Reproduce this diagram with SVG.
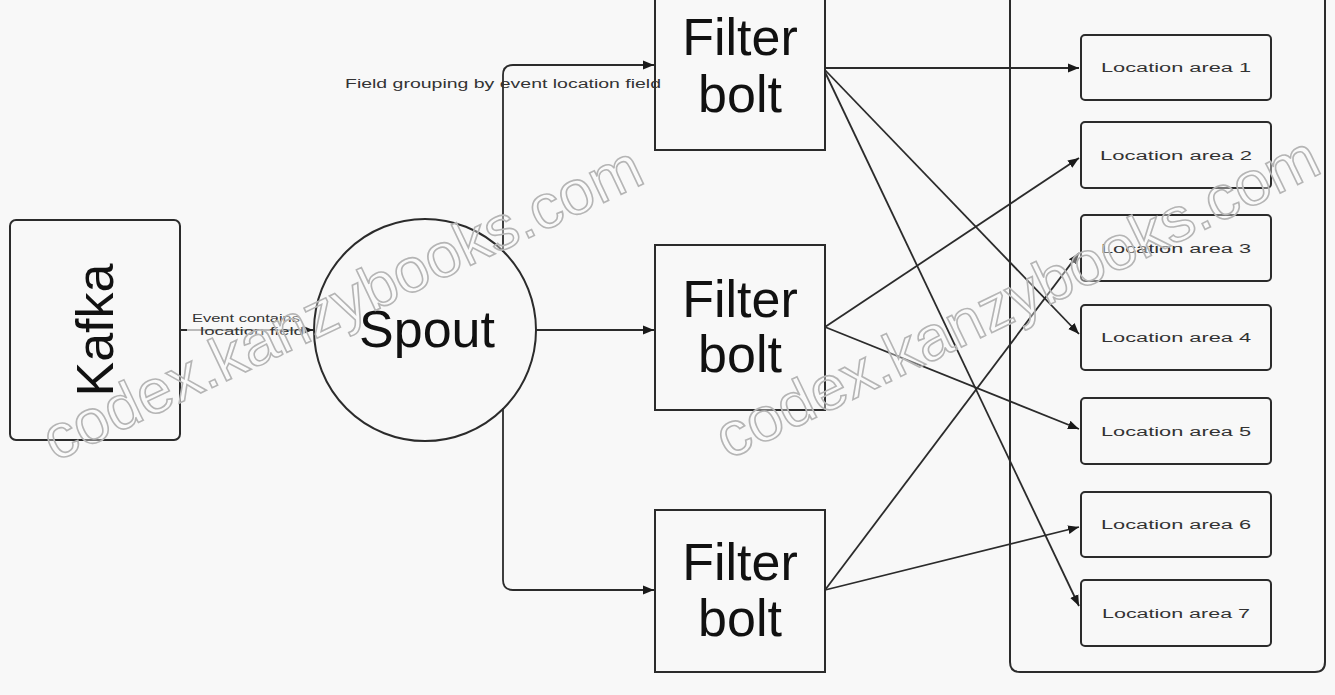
<svg xmlns="http://www.w3.org/2000/svg" width="1335" height="695" viewBox="0 0 1335 695">
<defs>
<style>
.bg{fill:#f8f8f8}
.box{fill:#f8f8f8;stroke:#2b2b2b;stroke-width:2}
.big{font-family:"Liberation Sans",Arial,sans-serif;font-size:52px;fill:#111;text-anchor:middle}
.small{font-family:"Liberation Sans",Arial,sans-serif;font-size:12px;fill:#333;text-anchor:middle}
.tiny{font-family:"Liberation Sans",Arial,sans-serif;font-size:10px;fill:#333;text-anchor:middle}
.conn{fill:none;stroke:#2b2b2b;stroke-width:1.8;marker-end:url(#ah)}
.wm{font-family:"Liberation Sans",Arial,sans-serif;font-size:62px;fill:#ffffff;fill-opacity:0.35;stroke:#b5b5b5;stroke-width:1.6}
</style>
<marker id="ah" viewBox="0 0 10 10" refX="10" refY="5" markerWidth="11" markerHeight="11" markerUnits="userSpaceOnUse" orient="auto">
<path d="M0,1 L10,5 L0,9 z" fill="#1a1a1a"/>
</marker>
</defs>
<rect class="bg" x="0" y="0" width="1335" height="695"/>

<g id="container">
<path class="box" d="M1010,-10 L1010,662 Q1010,672 1020,672 L1315,672 Q1325,672 1325,662 L1325,-10"/>
</g>

<g id="kafka">
<rect class="box" x="10" y="220" width="170" height="220" rx="6"/>
<text class="big" transform="translate(113,330) rotate(-90)">Kafka</text>
</g>

<g id="spout">
<circle class="box" cx="425" cy="330" r="111"/>
<text class="big" x="427" y="347">Spout</text>
</g>

<g id="filter1">
<rect class="box" x="655" y="-20" width="170" height="170"/>
<text class="big" x="740" y="55">Filter</text>
<text class="big" x="740" y="112">bolt</text>
</g>
<g id="filter2">
<rect class="box" x="655" y="245" width="170" height="165"/>
<text class="big" x="740" y="317">Filter</text>
<text class="big" x="740" y="372">bolt</text>
</g>
<g id="filter3">
<rect class="box" x="655" y="510" width="170" height="162"/>
<text class="big" x="740" y="580">Filter</text>
<text class="big" x="740" y="636">bolt</text>
</g>

<g id="loc1"><rect class="box" x="1081" y="35" width="190" height="65" rx="4"/><text class="small" x="1176" y="72" textLength="150" lengthAdjust="spacingAndGlyphs">Location area 1</text></g>
<g id="loc2"><rect class="box" x="1081" y="122" width="190" height="66" rx="4"/><text class="small" x="1176" y="160" textLength="152" lengthAdjust="spacingAndGlyphs">Location area 2</text></g>
<g id="loc3"><rect class="box" x="1081" y="215" width="190" height="66" rx="4"/><text class="small" x="1176" y="253" textLength="150" lengthAdjust="spacingAndGlyphs">Location area 3</text></g>
<g id="loc4"><rect class="box" x="1081" y="305" width="190" height="65" rx="4"/><text class="small" x="1176" y="342" textLength="150" lengthAdjust="spacingAndGlyphs">Location area 4</text></g>
<g id="loc5"><rect class="box" x="1081" y="398" width="190" height="66" rx="4"/><text class="small" x="1176" y="436" textLength="150" lengthAdjust="spacingAndGlyphs">Location area 5</text></g>
<g id="loc6"><rect class="box" x="1081" y="492" width="190" height="65" rx="4"/><text class="small" x="1176" y="529" textLength="150" lengthAdjust="spacingAndGlyphs">Location area 6</text></g>
<g id="loc7"><rect class="box" x="1081" y="580" width="190" height="66" rx="4"/><text class="small" x="1176" y="618" textLength="148" lengthAdjust="spacingAndGlyphs">Location area 7</text></g>

<g id="connectors">
<path class="conn" d="M180,330 L313,330"/>
<path class="conn" d="M503,252 L503,75 Q503,65 513,65 L654,65"/>
<path class="conn" d="M536,330 L654,330"/>
<path class="conn" d="M503,408 L503,580 Q503,590 513,590 L654,590"/>
<path class="conn" d="M825,68 L1079,68"/>
<path class="conn" d="M825,70 L1079,334"/>
<path class="conn" d="M825,72 L1079,606"/>
<path class="conn" d="M825,327 L1079,158"/>
<path class="conn" d="M825,327 L1079,429"/>
<path class="conn" d="M825,590 L1079,253"/>
<path class="conn" d="M825,590 L1079,527"/>
</g>

<g id="labels">
<rect x="187" y="313" width="118" height="24" fill="#f8f8f8" fill-opacity="0.7"/>
<text class="tiny" x="246" y="322" textLength="108" lengthAdjust="spacingAndGlyphs">Event contains</text>
<text class="tiny" x="252" y="335" textLength="104" lengthAdjust="spacingAndGlyphs">location field</text>
<text class="small" x="503" y="88" textLength="316" lengthAdjust="spacingAndGlyphs">Field grouping by event location field</text>
</g>

<g id="watermarks">
<text class="wm" transform="translate(55,462) rotate(-25.3)" textLength="655" lengthAdjust="spacingAndGlyphs">codex.kanzybooks.com</text>
<text class="wm" transform="translate(728,460) rotate(-25.8)" textLength="662" lengthAdjust="spacingAndGlyphs">codex.kanzybooks.com</text>
</g>
</svg>
